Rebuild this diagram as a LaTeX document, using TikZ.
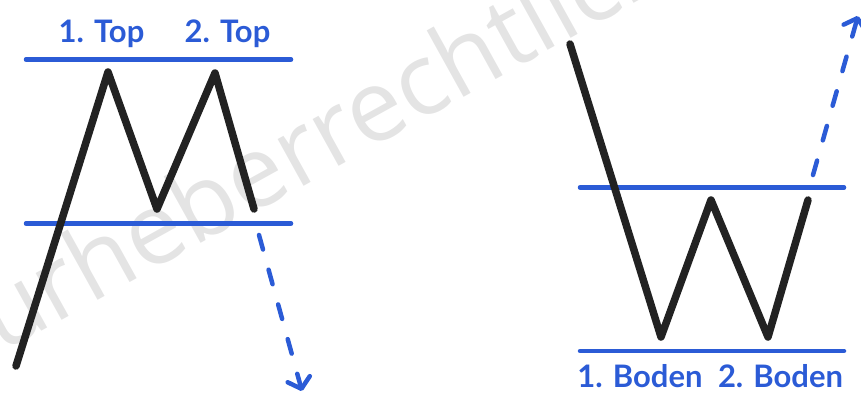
\documentclass[tikz,border=0pt]{standalone}
\usepackage{fontspec}
\setmainfont{Lato}
\newfontfamily\wmfont{Open Sans}
\usetikzlibrary{arrows.meta}
\definecolor{lblue}{HTML}{2B5BD6}
\definecolor{ink}{HTML}{222222}
\definecolor{wm}{HTML}{E4E4E4}
\tikzset{
  level/.style={draw=lblue,line width=4.5pt,line cap=round},
  price/.style={draw=ink,line width=7.5pt,line cap=round,line join=round},
  breakout/.style={draw=lblue,line width=4.5pt,line cap=round,
    dash pattern=on 15pt off 21pt,
    -{Straight Barb[length=10pt,width=23pt,round]}},
  lbl/.style={text=lblue,font=\bfseries\fontsize{31}{36}\selectfont,anchor=base,inner sep=0pt},
  watermark/.style={text=wm,font=\wmfont\fontsize{100}{110}\selectfont,anchor=base west,inner sep=0pt,rotate=29}
}
\begin{document}
\begin{tikzpicture}[x=1pt,y=-1pt]
\useasboundingbox (0,0) rectangle (861,392);
\begin{scope}
\clip (0,0) rectangle (861,392);
\node[watermark] (wmk) at (1,354) {urheberrechtlich geschützt};
\end{scope}
% ---- double top (M) ----
\coordinate (tl1) at (26,59.5);  \coordinate (tr1) at (291,59.5);
\coordinate (bl1) at (26,223.5); \coordinate (br1) at (291,223.5);
\draw[level] (tl1) -- (tr1);
\draw[level] (bl1) -- (br1);
\coordinate (m0) at (16,366);
\coordinate (m1) at (108,72);
\coordinate (m2) at (157,209);
\coordinate (m3) at (215,73);
\coordinate (m4) at (254,209);
\draw[price] (m0) -- (m1) -- (m2) -- (m3) -- (m4);
\coordinate (ma) at (259,235);
\coordinate (mb) at (302,391);
\draw[breakout] (ma) -- (mb);
\node[lbl] (top1) at (101.5,42) {1. Top};
\node[lbl] (top2) at (227.5,42) {2. Top};
% ---- double bottom (W) ----
\coordinate (tl2) at (580,187.5); \coordinate (tr2) at (844,187.5);
\coordinate (bl2) at (580,351);   \coordinate (br2) at (844,351);
\draw[level] (tl2) -- (tr2);
\draw[level] (bl2) -- (br2);
\coordinate (w0) at (570,44);
\coordinate (w1) at (661,337);
\coordinate (w2) at (711,200);
\coordinate (w3) at (768,337);
\coordinate (w4) at (808,200);
\draw[price] (w0) -- (w1) -- (w2) -- (w3) -- (w4);
\coordinate (wa) at (813,175);
\coordinate (wb) at (858,16);
\draw[breakout] (wa) -- (wb);
\node[lbl] (bot1) at (640,387) {1. Boden};
\node[lbl] (bot2) at (780.5,387) {2. Boden};
\end{tikzpicture}
\end{document}
